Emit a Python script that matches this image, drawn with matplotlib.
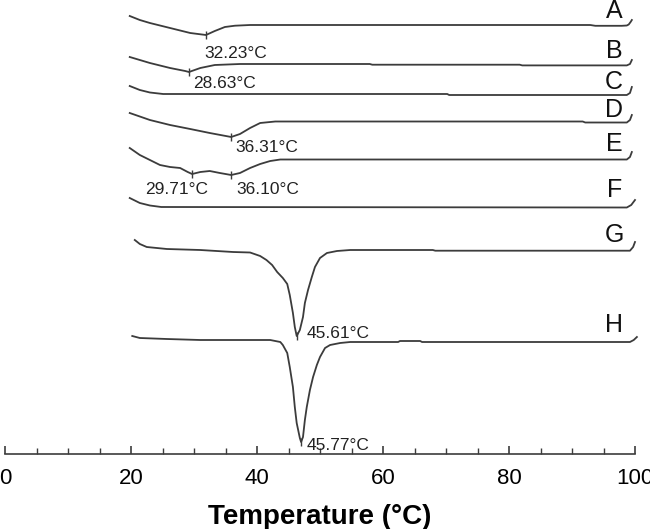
import matplotlib
matplotlib.use("Agg")
import matplotlib.pyplot as plt

plt.rcParams['font.family'] = ['Liberation Sans', 'DejaVu Sans']

# DSC thermograms, heat flow in arbitrary offset units (endo down)
temp_A = [19.8, 21.4, 23.0, 26.2, 29.4, 31.9, 33.3, 34.9, 36.5, 38.9, 92.9, 93.7, 97.9, 98.7, 99.0, 99.3, 99.5]
flow_A = [438, 434, 431, 426, 421, 419, 423, 427, 428.3, 429, 429, 428.2, 428.2, 428.5, 429.5, 432, 434]

temp_B = [19.8, 21.4, 23.0, 26.2, 28.6, 29.2, 31.0, 33.3, 37.3, 57.9, 58.3, 81.7, 82.1, 98.7, 99.2, 99.5]
flow_B = [397, 394, 391, 386, 383, 382, 386, 389, 390, 390, 389.3, 389.3, 388.6, 388.6, 390, 394]

temp_C = [19.8, 21.4, 23.0, 25.1, 70.2, 70.5, 98.7, 99.2, 99.5]
flow_C = [368, 364, 361.5, 360, 360, 359, 359, 361, 367]

temp_D = [19.8, 23.0, 26.2, 29.4, 32.5, 35.9, 37.3, 38.9, 40.5, 42.9, 91.7, 92.1, 98.7, 99.2, 99.5]
flow_D = [341, 334, 329, 325, 321, 317, 320, 326, 331, 332.5, 332.5, 331.5, 331.5, 334, 339]

temp_E = [19.8, 21.4, 23.0, 24.6, 26.2, 27.8, 29.0, 29.7, 31.0, 32.5, 34.1, 35.9, 37.3, 38.9, 40.5,
          42.1, 43.7, 98.7, 99.2, 99.5]
flow_E = [306, 299, 294, 289, 287, 286, 282, 280, 282, 283, 281, 279, 281, 286, 290,
          293, 294.5, 294.5, 297, 302]

temp_F = [19.8, 21.4, 23.0, 24.8, 98.7, 99.4, 100.0]
flow_F = [256, 251, 248.5, 247, 246.5, 249, 254]

temp_G = [20.6, 21.4, 22.5, 25.7, 31.0, 36.2, 38.9, 40.5, 41.5, 42.4, 43.2, 44.1, 44.8, 45.2, 45.7, 46.0, 46.3,
          46.8, 47.3, 47.6, 48.1, 48.7, 49.2, 50.0, 51.1, 52.7, 54.8, 67.9, 68.3, 99.2, 99.7, 100.0]
flow_G = [214, 210, 207, 205, 204, 202, 201.5, 198, 194, 189, 182, 176, 170, 159, 141, 127, 118,
          124, 137, 151, 164, 177, 187, 196, 201, 203, 204, 204, 203.3, 203.3, 207, 212]

temp_H = [20.2, 21.4, 25.7, 31.0, 42.1, 43.7, 44.1, 44.8, 45.2, 45.7, 46.0, 46.3, 46.8, 47.0, 47.3, 47.6,
          47.9, 48.4, 48.9, 49.5, 50.0, 50.8, 51.6, 53.2, 54.8, 62.4, 62.7, 65.9, 66.2, 99.2, 99.8, 100.3]
flow_H = [118, 116, 115, 114, 114, 112, 109, 101, 87, 67, 47, 31, 16, 12, 17, 34,
          47, 64, 77, 89, 97, 106, 109, 111, 112, 112, 113, 113, 112, 112, 114, 117]

# peak positions as drawn, and the printed peak temperatures
peak_T = [31.9, 29.2, 35.9, 29.7, 35.9, 46.3, 47.0]
peak_flow = [419, 382, 317, 280, 279, 118, 12]
peak_text = ['32.23°C', '28.63°C', '36.31°C', '29.71°C', '36.10°C', '45.61°C', '45.77°C']

names = ['A', 'B', 'C', 'D', 'E', 'F', 'G', 'H']
name_flow = [443, 403, 372, 344, 310, 264, 219, 129]

curves = [(temp_A, flow_A), (temp_B, flow_B), (temp_C, flow_C), (temp_D, flow_D),
          (temp_E, flow_E), (temp_F, flow_F), (temp_G, flow_G), (temp_H, flow_H)]

line_col = '#3c3c3c'

fig = plt.figure(figsize=(6.5, 5.29), dpi=100)
ax = fig.add_axes([5 / 650, 75 / 529, 630 / 650, 454 / 529])

for t, f in curves:
    ax.plot(t, f, color=line_col, lw=1.3, clip_on=False)

ax.plot(peak_T, peak_flow, ls='none', marker='|', ms=6, mew=1, color=line_col, clip_on=False)

# text offsets from the peak marks (data units)
text_dx = [-0.3, 0.6, 0.6, -7.5, 0.8, 1.5, 0.9]
text_dy = [-18, -12, -11, -16, -15, 3, -3]
for x, y, s, dx, dy in zip(peak_T, peak_flow, peak_text, text_dx, text_dy):
    ax.text(x + dx, y + dy, s, fontsize=12.5, ha='left', va='center', color='#222222')

for n, y in zip(names, name_flow):
    ax.text(96.7, y, n, fontsize=18, ha='center', va='center', color='#111111')

ax.set_xlim(0, 100)
ax.set_ylim(0, 454)
for side in ['left', 'right', 'top']:
    ax.spines[side].set_visible(False)
ax.spines['bottom'].set_color(line_col)
ax.spines['bottom'].set_linewidth(1.2)
ax.set_yticks([])
ax.set_xticks(range(0, 101, 20))
ax.set_xticks(range(0, 101, 5), minor=True)
ax.tick_params(axis='x', which='major', direction='in', length=6, width=1.2,
               color=line_col, labelsize=16, pad=10)
ax.tick_params(axis='x', which='minor', direction='in', length=4, width=1, color=line_col)
ax.set_xlabel('Temperature (°C)', fontsize=20, fontweight='bold', labelpad=11)

fig.savefig('out.png', dpi=100)
